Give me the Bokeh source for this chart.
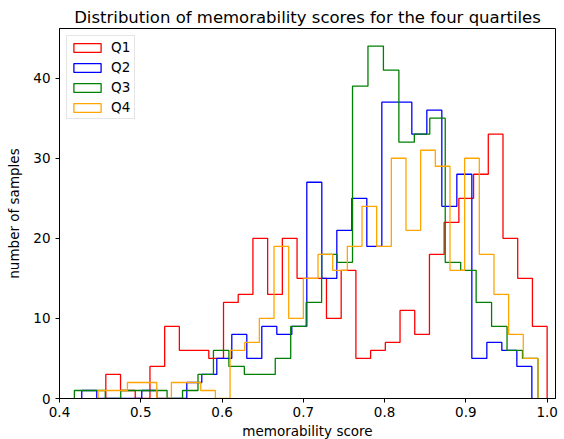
import numpy as np
from bokeh.plotting import figure
from bokeh.models import Range1d, Legend, LegendItem, FixedTicker, PrintfTickFormatter
from bokeh.embed import file_html
from bokeh.resources import INLINE

labels = ["Q1", "Q2", "Q3", "Q4"]
colors = ["red", "blue", "green", "orange"]

# per-quartile histogram: (min score, max score) and counts of 30 equal bins
q1_range = (0.4570, 1.0000)
q1_counts = [3, 1, 0, 4, 9, 6, 6, 5, 12, 13, 20, 13, 20, 15, 15, 10, 16, 5, 6, 7,
             11, 8, 18, 22, 25, 28, 33, 20, 15, 9]
q2_range = (0.4274, 0.9812)
q2_counts = [1, 0, 0, 0, 1, 0, 0, 2, 3, 5, 8, 5, 9, 8, 9, 27, 15, 21, 25, 19,
             37, 37, 33, 36, 24, 28, 5, 7, 6, 4]
q3_range = (0.4183, 0.9887)
q3_counts = [1, 1, 0, 1, 1, 1, 0, 1, 3, 6, 4, 3, 3, 5, 9, 12, 18, 17, 39, 44,
             41, 32, 33, 35, 17, 16, 12, 9, 6, 5]
q4_range = (0.4475, 0.9887)
q4_counts = [1, 1, 2, 2, 0, 2, 2, 1, 0, 6, 7, 10, 19, 10, 15, 18, 16, 19, 24, 19,
             30, 21, 31, 29, 16, 30, 18, 13, 8, 5]

x_ticks = [0.4, 0.5, 0.6, 0.7, 0.8, 0.9, 1.0]
y_ticks = [0, 10, 20, 30, 40]

FONT = "DejaVu Sans"

p = figure(frame_width=496, frame_height=370, output_backend="svg",
           toolbar_location=None,
           x_range=Range1d(0.4, 1.0103), y_range=Range1d(0, 46.2),
           min_border_left=59, min_border_right=9, min_border_top=28,
           min_border_bottom=41,
           title="Distribution of memorability scores for the four quartiles")
p.title.text_font = FONT
p.title.text_font_size = "16.5px"
p.title.text_font_style = "normal"
p.title.align = "center"
p.title.standoff = 4
p.title.text_color = "black"

p.xgrid.visible = False
p.ygrid.visible = False
p.outline_line_color = "black"
p.outline_line_width = 1
p.background_fill_color = "white"
p.border_fill_color = "white"

for ax in (p.xaxis[0], p.yaxis[0]):
    ax.axis_line_color = "black"
    ax.major_tick_line_color = "black"
    ax.major_tick_out = 4
    ax.major_tick_in = 0
    ax.minor_tick_line_color = None
    ax.major_label_text_font = FONT
    ax.major_label_text_font_size = "13.5px"
    ax.major_label_text_color = "black"
    ax.axis_label_text_font = FONT
    ax.axis_label_text_font_size = "13.5px"
    ax.axis_label_text_font_style = "normal"
    ax.axis_label_text_color = "black"

p.xaxis[0].ticker = FixedTicker(ticks=x_ticks)
p.xaxis[0].formatter = PrintfTickFormatter(format="%.1f")
p.yaxis[0].ticker = FixedTicker(ticks=y_ticks)
p.xaxis[0].axis_label = "memorability score"
p.yaxis[0].axis_label = "number of samples"
p.xaxis[0].major_label_standoff = 4
p.xaxis[0].axis_label_standoff = 3
p.yaxis[0].major_label_standoff = 5
p.yaxis[0].axis_label_standoff = 8


def outline(rng, counts):
    n = len(counts)
    edges = np.linspace(rng[0], rng[1], n + 1)
    xs = np.repeat(edges, 2)
    ys = np.concatenate([[0], np.repeat(np.asarray(counts, dtype=float), 2), [0]])
    return xs, ys


series = [(q1_range, q1_counts), (q2_range, q2_counts),
          (q3_range, q3_counts), (q4_range, q4_counts)]

items = []
for (rng, counts), lab, col in zip(series, labels, colors):
    xs, ys = outline(rng, counts)
    p.line(xs, ys, line_color=col, line_width=1.3)
    # legend swatch only: a box placed below the visible y range
    lr = p.quad(left=[0.5], right=[0.6], top=[-20], bottom=[-30], fill_alpha=0,
                line_color=col, line_width=1.3)
    items.append(LegendItem(label=lab, renderers=[lr]))

legend = Legend(items=items, location="top_left")
legend.margin = 7
legend.padding = 3
legend.spacing = 4
legend.glyph_width = 34
legend.glyph_height = 11
legend.label_height = 16
legend.label_standoff = 7
legend.label_text_font = FONT
legend.label_text_font_size = "13.5px"
legend.label_text_color = "black"
legend.border_line_color = "#cccccc"
legend.border_line_width = 1
legend.background_fill_alpha = 0.8
p.add_layout(legend, "center")

open("out.html", "w").write(file_html(p, INLINE))
